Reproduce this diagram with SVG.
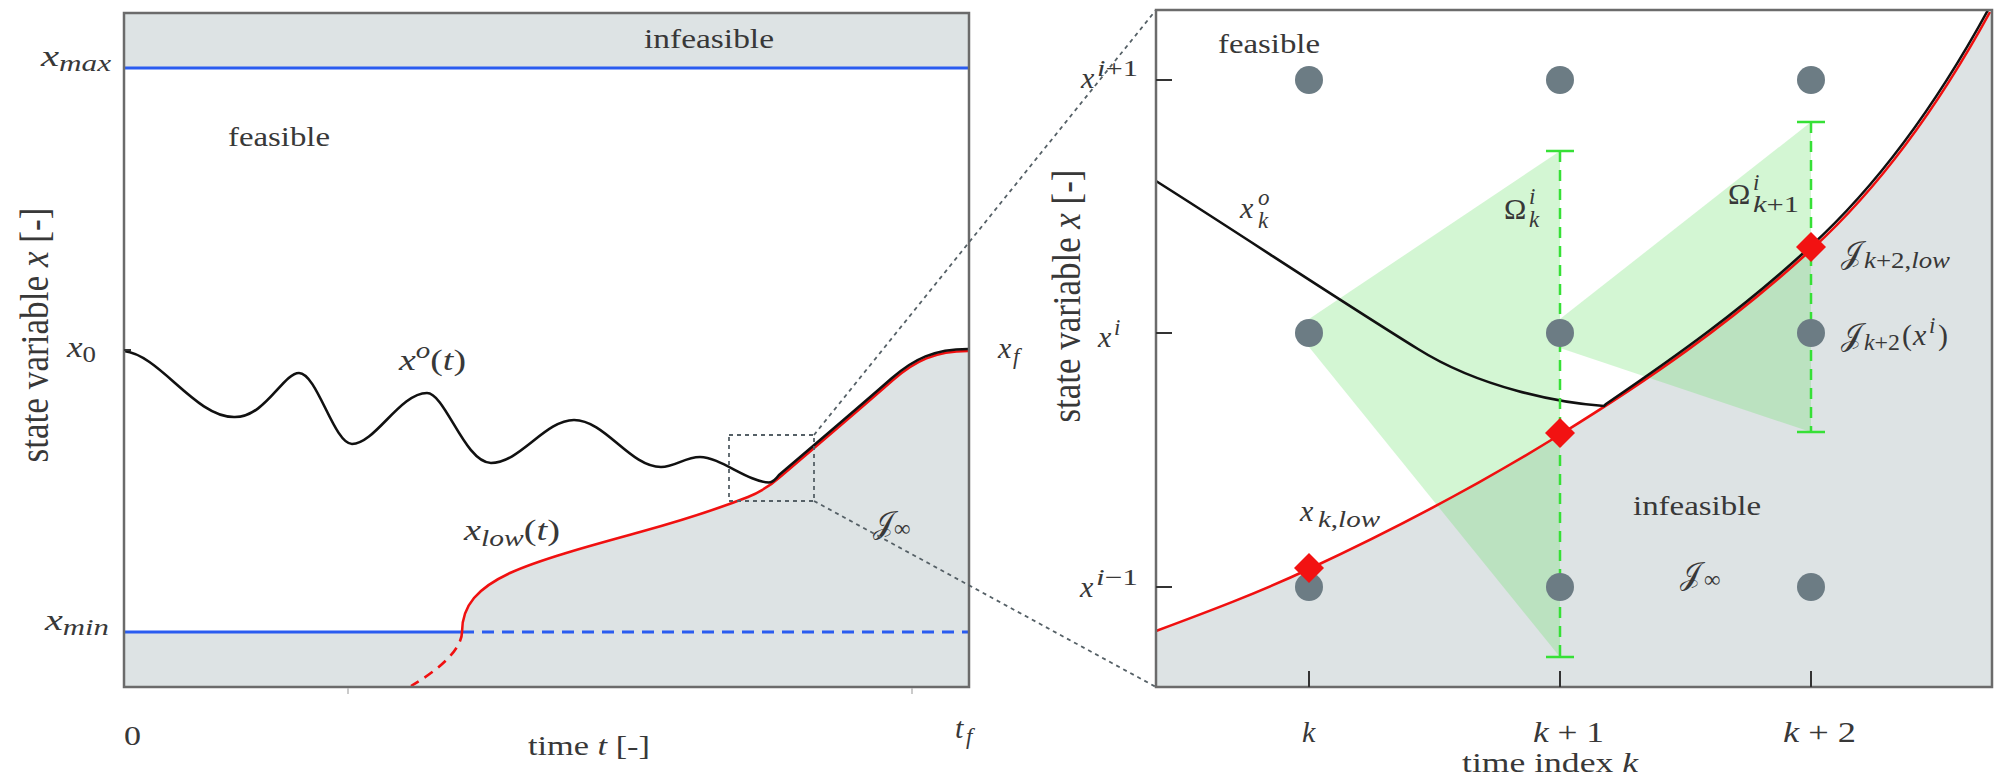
<svg xmlns="http://www.w3.org/2000/svg" width="2009" height="780" viewBox="0 0 2009 780">
<style>
 .t { font-family: "Liberation Serif", "DejaVu Serif", serif; font-size: 28px; fill: #383838; }
 .m { font-family: "Liberation Serif", "DejaVu Serif", serif; font-size: 30px; font-style: italic; fill: #383838; }
 .s { font-size: 23px; }
 .u { font-style: normal; }
 .cal { font-family: "DejaVu Serif", "DejaVu Sans", "Noto Sans", serif; font-style: normal; }
 .frame { fill: none; stroke: #6b6b6b; stroke-width: 2.5; }
 .grey { fill: #dde3e4; stroke: none; }
 .blue { stroke: #2a5cf0; stroke-width: 3; fill: none; }
 .red { stroke: #f01010; stroke-width: 2.6; fill: none; }
 .blk { stroke: #111; stroke-width: 2.6; fill: none; }
 .dot { fill: #6c7c84; }
 .dia { fill: #f21212; }
 .green { fill: #6ee06e; fill-opacity: 0.3; }
 .gline { stroke: #36e036; stroke-width: 2.5; fill: none; }
 .gdash { stroke-dasharray: 11 8; }
 .zoom { stroke: #556066; stroke-width: 1.8; stroke-dasharray: 4 4; fill: none; }
 .tick { stroke: #333; stroke-width: 2; }
</style>
<defs>
 <polygon id="diamond" points="0,-15 15,0 0,15 -15,0"/>
</defs>

<g id="left-panel">
 <rect class="grey" x="124" y="13" width="845" height="55"/>
 <path class="grey" d="M124 632 H462 C462 605 478 588 510 573 C540 559 600 543 640 532 C680 521 720 508 748 497 C760 492 769 487 780 477 C820 443 860 409 893 380 C915 361 935 351 968 351 L969 351 V687 H124 Z"/>
 <path class="blue" d="M124 68 H969"/>
 <path class="blue" d="M124 632 H462"/>
 <path class="blue" d="M462 632 H969" stroke-dasharray="12 8"/>
 <path class="red" d="M462 632 C462 648 442 668 411 686" stroke-dasharray="10 7"/>
 <path id="x-low" class="red" d="M462 632 C462 605 478 588 510 573 C540 559 600 543 640 532 C680 521 720 508 748 497 C760 492 769 487 780 477 C820 443 860 409 893 380 C915 361 935 351 968 351"/>
 <path id="x-opt" class="blk" d="M124 351 C160 355 195 417 234 417 C265 418 283 373 299 373 C317 373 334 444 352 444 C375 444 400 393 427 393 C445 393 465 463 491 463 C520 463 545 420 574 420 C605 420 630 467 661 467 C675 467 685 457 700 457 C720 457 748 482 769 482.5 C773 482.5 776 479 779 475 C819 441 859 407 892 378 C914 359 934 349 968 349"/>
 <rect class="frame" x="124" y="13" width="845" height="674"/>
 <path class="tick" d="M124 350 H131"/>
 <path stroke="#bbb" stroke-width="1.5" d="M348 688 V694 M912 688 V694"/>
 <rect class="zoom" x="729" y="435" width="85" height="66"/>

 <text class="t" x="644" y="48" textLength="130" lengthAdjust="spacingAndGlyphs">infeasible</text>
 <text class="t" x="228" y="146" textLength="102" lengthAdjust="spacingAndGlyphs">feasible</text>
 <text class="m" x="41" y="66" textLength="70" lengthAdjust="spacingAndGlyphs">x<tspan class="s" dy="5">max</tspan></text>
 <text class="m" x="67" y="357" textLength="29" lengthAdjust="spacingAndGlyphs">x<tspan class="s u" dy="5">0</tspan></text>
 <text class="m" x="45" y="630" textLength="64" lengthAdjust="spacingAndGlyphs">x<tspan class="s" dy="5">min</tspan></text>
 <text class="m" x="399" y="370" textLength="67" lengthAdjust="spacingAndGlyphs">x<tspan class="s" dy="-12">o</tspan><tspan class="u" dy="12">(</tspan>t<tspan class="u">)</tspan></text>
 <text class="m" x="464" y="540" textLength="96" lengthAdjust="spacingAndGlyphs">x<tspan class="s" dy="6">low</tspan><tspan class="u" dy="-6">(</tspan>t<tspan class="u">)</tspan></text>
 <text class="m" x="873" y="533"><tspan class="cal">𝒥</tspan><tspan class="s u" dy="3">∞</tspan></text>
 <text class="m"><tspan x="998" y="358">x</tspan><tspan class="s" x="1013" y="364">f</tspan></text>
 <text class="m"><tspan x="955" y="738">t</tspan><tspan class="s" x="966" y="744">f</tspan></text>
 <text class="t" x="124" y="745" textLength="17" lengthAdjust="spacingAndGlyphs">0</text>
 <text class="t" x="528" y="755" textLength="122" lengthAdjust="spacingAndGlyphs">time <tspan font-style="italic">t</tspan> [-]</text>
 <text class="t" transform="translate(48,335) rotate(-90) scale(1,1.4)" text-anchor="middle" textLength="255" lengthAdjust="spacingAndGlyphs">state variable <tspan font-style="italic">x</tspan> [-]</text>
</g>

<g id="connectors">
 <path class="zoom" d="M814 435 L1156 10"/>
 <path class="zoom" d="M814 501 L1156 687"/>
</g>

<g id="right-panel">
 <path class="grey" d="M1156 631 C1207 612 1258 593 1309 569 C1393 530 1477 486 1561 434 C1645 382 1729 325 1813 248 C1872 194 1931 120 1990 12 L1992 10 V687 H1156 Z"/>
 <g id="omega-k">
  <polygon class="green" points="1309,319 1560,151 1560,657 1309,347"/>
 </g>
 <g id="omega-k1">
  <polygon class="green" points="1560,319 1811,122 1811,432 1560,348"/>
 </g>
 <path id="x-k-low" class="red" d="M1156 631 C1207 612 1258 593 1309 569 C1393 530 1477 486 1561 434 C1645 382 1729 325 1813 248 C1872 194 1931 120 1990 12"/>
 <path id="x-k-opt" class="blk" d="M1156 181 C1243 236 1331 295 1418 349 C1480 388 1560 403 1604 406 L1606 404 C1675 357 1743 309 1811 246 C1870 192 1929 118 1988 10"/>
 <g id="range-k1">
  <path class="gline gdash" d="M1560 151 V657"/>
  <path class="gline" d="M1546 151 H1574 M1546 657 H1574"/>
 </g>
 <g id="range-k2">
  <path class="gline gdash" d="M1811 122 V432"/>
  <path class="gline" d="M1797 122 H1825 M1797 432 H1825"/>
 </g>
 <g id="grid">
  <circle class="dot" cx="1309" cy="80" r="14"/>
  <circle class="dot" cx="1560" cy="80" r="14"/>
  <circle class="dot" cx="1811" cy="80" r="14"/>
  <circle class="dot" cx="1309" cy="333" r="14"/>
  <circle class="dot" cx="1560" cy="333" r="14"/>
  <circle class="dot" cx="1811" cy="333" r="14"/>
  <circle class="dot" cx="1309" cy="587" r="14"/>
  <circle class="dot" cx="1560" cy="587" r="14"/>
  <circle class="dot" cx="1811" cy="587" r="14"/>
 </g>
 <g id="lows">
  <use href="#diamond" class="dia" x="1309" y="568"/>
  <use href="#diamond" class="dia" x="1560" y="433"/>
  <use href="#diamond" class="dia" x="1811" y="247"/>
 </g>
 <rect class="frame" x="1156" y="10" width="836" height="677"/>
 <path class="tick" d="M1156 80 H1172 M1156 333 H1172 M1156 587 H1172 M1309 687 V671 M1560 687 V671 M1811 687 V671"/>

 <text class="t" x="1218" y="53" textLength="102" lengthAdjust="spacingAndGlyphs">feasible</text>
 <text class="t" x="1633" y="515" textLength="128" lengthAdjust="spacingAndGlyphs">infeasible</text>
 <text class="m"><tspan x="1240" y="218">x</tspan><tspan class="s" x="1258" y="205">o</tspan><tspan class="s" x="1258" y="228">k</tspan></text>
 <text class="m"><tspan class="u" x="1504" y="219">Ω</tspan><tspan class="s" x="1529" y="204">i</tspan><tspan class="s" x="1529" y="227">k</tspan></text>
 <text class="m"><tspan class="u" x="1728" y="204">Ω</tspan><tspan class="s" x="1753" y="190">i</tspan><tspan class="s" x="1753" y="212" textLength="46" lengthAdjust="spacingAndGlyphs">k<tspan class="u">+1</tspan></tspan></text>
 <text class="m"><tspan class="cal" x="1841" y="263">𝒥</tspan><tspan class="s" x="1864" y="268" textLength="86" lengthAdjust="spacingAndGlyphs">k<tspan class="u">+2,</tspan>low</tspan></text>
 <text class="m"><tspan class="cal" x="1841" y="345">𝒥</tspan><tspan class="s" x="1864" y="350" textLength="36" lengthAdjust="spacingAndGlyphs">k<tspan class="u">+2</tspan></tspan><tspan class="u" x="1902" y="345">(</tspan><tspan x="1913" y="345">x</tspan><tspan class="s" x="1929" y="333">i</tspan><tspan class="u" x="1938" y="345">)</tspan></text>
 <text class="m"><tspan x="1300" y="521">x</tspan><tspan class="s" x="1318" y="527" textLength="62" lengthAdjust="spacingAndGlyphs">k<tspan class="u">,</tspan>low</tspan></text>
 <text class="m"><tspan class="cal" x="1680" y="584">𝒥</tspan><tspan class="s u" x="1704" y="587">∞</tspan></text>
 <text class="m"><tspan x="1081" y="88">x</tspan><tspan class="s" x="1097" y="76" textLength="41" lengthAdjust="spacingAndGlyphs">i<tspan class="u">+1</tspan></tspan></text>
 <text class="m"><tspan x="1098" y="347">x</tspan><tspan class="s" x="1114" y="335">i</tspan></text>
 <text class="m"><tspan x="1080" y="597">x</tspan><tspan class="s" x="1096" y="585" textLength="42" lengthAdjust="spacingAndGlyphs">i<tspan class="u">−1</tspan></tspan></text>
 <text class="m" x="1302" y="742">k</text>
 <text class="m" x="1533" y="742" textLength="71" lengthAdjust="spacingAndGlyphs">k<tspan class="u"> + 1</tspan></text>
 <text class="m" x="1783" y="742" textLength="73" lengthAdjust="spacingAndGlyphs">k<tspan class="u"> + 2</tspan></text>
 <text class="t" x="1462" y="772" textLength="176" lengthAdjust="spacingAndGlyphs">time index <tspan font-style="italic">k</tspan></text>
 <text class="t" transform="translate(1080,296) rotate(-90) scale(1,1.4)" text-anchor="middle" textLength="253" lengthAdjust="spacingAndGlyphs">state variable <tspan font-style="italic">x</tspan> [-]</text>
</g>
</svg>
